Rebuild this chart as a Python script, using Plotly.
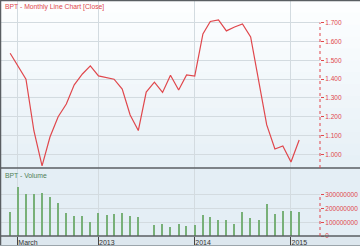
import plotly.graph_objects as go
import pandas as pd

# ---- data ----
months = pd.date_range("2012-02-01", "2015-02-01", freq="MS")
close = [1.537, 1.470, 1.399, 1.125, 0.938, 1.092, 1.200, 1.267, 1.369, 1.427,
         1.470, 1.417, 1.409, 1.399, 1.347, 1.209, 1.126, 1.331, 1.383, 1.329,
         1.420, 1.342, 1.422, 1.416, 1.640, 1.706, 1.714, 1.656, 1.677, 1.693,
         1.624, 1.395, 1.156, 1.028, 1.044, 0.959, 1.076]
volume_m = [173, 361, 305, 307, 315, 283, 239, 171, 149, 146, 105, 171, 156, 163,
            171, 146, 141, None, 80, 90, 66, 85, 75, 80, 154, 137, 117, 117, 88,
            173, 134, 117, 234, 161, 183, 183, 173]
volume = [None if v is None else v * 1_000_000 for v in volume_m]

x_tick_vals = ["2012-03-01", "2013-01-01", "2014-01-01", "2015-01-01"]
x_tick_text = ["March", "2013", "2014", "2015"]
price_ticks = [1.0, 1.1, 1.2, 1.3, 1.4, 1.5, 1.6, 1.7]
vol_ticks = [0, 100000000, 200000000, 300000000]

title_text = "BPT - Monthly Line Chart [Close]"
vol_title = "BPT - Volume"

# ---- style ----
RED = "#e0474c"
GREEN = "#78b078"
GRID = "#d3dbe0"
BORDER = "#5a5e62"
FONT = "Liberation Sans"
W, H = 360, 246
B = 10
PH = H - B
xdom_end = 320 / W
top_dom = [(PH - 168) / PH, (PH - 1) / PH]
bot_dom = [0, (PH - 169) / PH]

fig = go.Figure()
fig.add_trace(go.Scatter(x=months, y=close, mode="lines",
                         line=dict(color=RED, width=1.2), xaxis="x", yaxis="y",
                         hoverinfo="skip"))
fig.add_trace(go.Bar(x=months, y=volume, marker=dict(color=GREEN, line_width=0),
                     width=5 * 24 * 3600 * 1000, xaxis="x2", yaxis="y2",
                     hoverinfo="skip"))

xrange = ["2011-12-24 12:00", "2015-04-21"]
fig.update_layout(
    width=W, height=H,
    margin=dict(l=0, r=0, t=0, b=B),
    paper_bgcolor="#ffffff",
    plot_bgcolor="rgba(0,0,0,0)",
    showlegend=False,
    bargap=0,
    font=dict(family=FONT, size=7, color="#333"),
    xaxis=dict(domain=[0, xdom_end], range=xrange, type="date",
               tickvals=x_tick_vals, showticklabels=False, showgrid=True,
               gridcolor=GRID, gridwidth=1, ticks="", anchor="y",
               zeroline=False, showline=False),
    xaxis2=dict(domain=[0, xdom_end], range=xrange, type="date", matches="x",
                tickvals=x_tick_vals, ticktext=x_tick_text, showgrid=True,
                gridcolor=GRID, ticks="outside", ticklen=10, tickcolor="#444",
                tickwidth=1, ticklabelposition="outside right",
                ticklabelstandoff=0,
                tickfont=dict(family=FONT, size=7, color="#333"),
                anchor="y2", showline=False, zeroline=False),
    yaxis=dict(domain=top_dom, range=[0.927, 1.815], side="right", anchor="x",
               tickvals=price_ticks, tickformat=".3f", ticks="outside", ticklen=3,
               tickcolor=RED, tickfont=dict(family=FONT, size=6.5, color=RED),
               showgrid=True, gridcolor=GRID, zeroline=False, showline=False),
    yaxis2=dict(domain=bot_dom, range=[0, 490e6], side="right", anchor="x2",
                tickvals=vol_ticks, tickformat="d", ticks="outside", ticklen=3,
                tickcolor=RED, tickfont=dict(family=FONT, size=6.5, color=RED),
                showgrid=True, gridcolor=GRID, zeroline=False, showline=False),
)

shapes = []
# background gradient bands (top panel)
n = 14
c0 = (253, 254, 255)
c1 = (230, 240, 246)
for i in range(n):
    t = i / (n - 1)
    col = tuple(round(c0[k] + (c1[k] - c0[k]) * t) for k in range(3))
    ya = top_dom[1] - (top_dom[1] - top_dom[0]) * i / n
    yb = top_dom[1] - (top_dom[1] - top_dom[0]) * (i + 1) / n
    shapes.append(dict(type="rect", xref="paper", yref="paper", x0=0, x1=1,
                       y0=yb, y1=ya + 0.002, fillcolor="rgb(%d,%d,%d)" % col,
                       line_width=0, layer="below"))
# bottom panel
shapes.append(dict(type="rect", xref="paper", yref="paper", x0=0, x1=1,
                   y0=0, y1=top_dom[0], fillcolor="#e4eef5", line_width=0,
                   layer="below"))
# label strip
shapes.append(dict(type="rect", xref="paper", yref="paper", x0=0, x1=1,
                   y0=-B / PH, y1=0, fillcolor="#dde7ee", line_width=0,
                   layer="below"))
# borders
shapes += [
    dict(type="line", xref="paper", yref="paper", x0=0, x1=1, y0=1 - 0.5 / PH,
         y1=1 - 0.5 / PH, line=dict(color=BORDER, width=1.5)),
    dict(type="line", xref="paper", yref="paper", x0=0.5 / W, x1=0.5 / W,
         y0=-B / PH, y1=1, line=dict(color=BORDER, width=1.5)),
    dict(type="line", xref="paper", yref="paper", x0=0, x1=1, y0=top_dom[0],
         y1=top_dom[0], line=dict(color=BORDER, width=1.5)),
    dict(type="line", xref="paper", yref="paper", x0=0, x1=1, y0=0, y1=0,
         line=dict(color=BORDER, width=1.5)),
    dict(type="line", xref="paper", yref="paper", x0=0, x1=1, y0=-B / PH + 0.002,
         y1=-B / PH + 0.002, line=dict(color="#9aa4aa", width=1)),
]
# dotted right axis lines
shapes.append(dict(type="line", xref="paper", yref="y", x0=xdom_end, x1=xdom_end,
                   y0=0.927, y1=price_ticks[-1], line=dict(color=RED, width=1, dash="dot")))
shapes.append(dict(type="line", xref="paper", yref="y2", x0=xdom_end, x1=xdom_end,
                   y0=0, y1=vol_ticks[-1], line=dict(color=RED, width=1, dash="dot")))
fig.update_layout(shapes=shapes)

fig.add_annotation(text=title_text, xref="paper", yref="paper", x=3 / W,
                   y=1 - 7 / PH, xanchor="left", yanchor="middle", showarrow=False,
                   font=dict(family=FONT, size=6.8, color=RED))
fig.add_annotation(text=vol_title, xref="paper", yref="paper", x=3 / W,
                   y=(PH - 175) / PH, xanchor="left", yanchor="middle", showarrow=False,
                   font=dict(family=FONT, size=6.8, color="#4f7f56"))

fig.write_html("out.html")
